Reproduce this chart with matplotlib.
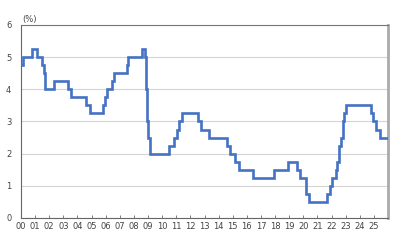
import matplotlib
matplotlib.use("Agg")
import matplotlib.pyplot as plt
import pandas as pd

change_dates = ["2000-01-01", "2000-02-10", "2000-10-05", "2001-02-08", "2001-07-05",
                "2001-08-09", "2001-09-19", "2002-05-07", "2003-05-13", "2003-07-10",
                "2004-08-12", "2004-11-11", "2005-10-11", "2005-12-08", "2006-02-09",
                "2006-06-08", "2006-08-10", "2007-07-12", "2007-08-09", "2008-08-07",
                "2008-10-09", "2008-10-27", "2008-11-07", "2008-12-11", "2009-01-09",
                "2009-02-12", "2010-07-09", "2010-11-16", "2011-01-13", "2011-03-10",
                "2011-06-10", "2012-07-12", "2012-10-11", "2013-05-09", "2014-08-14",
                "2014-10-15", "2015-03-12", "2015-06-11", "2016-06-09", "2017-11-30",
                "2018-11-30", "2019-07-18", "2019-10-16", "2020-03-16", "2020-05-28",
                "2021-08-26", "2021-11-25", "2022-01-14", "2022-04-14", "2022-05-26",
                "2022-07-13", "2022-08-25", "2022-10-12", "2022-11-24", "2023-01-13",
                "2024-10-11", "2024-11-28", "2025-02-25", "2025-05-29"]
rates = [4.75, 5.00, 5.25, 5.00, 4.75,
         4.50, 4.00, 4.25, 4.00, 3.75,
         3.50, 3.25, 3.50, 3.75, 4.00,
         4.25, 4.50, 4.75, 5.00, 5.25,
         5.00, 4.25, 4.00, 3.00, 2.50,
         2.00, 2.25, 2.50, 2.75, 3.00,
         3.25, 3.00, 2.75, 2.50, 2.25,
         2.00, 1.75, 1.50, 1.25, 1.50,
         1.75, 1.50, 1.25, 0.75, 0.50,
         0.75, 1.00, 1.25, 1.50, 1.75,
         2.25, 2.50, 3.00, 3.25, 3.50,
         3.25, 3.00, 2.75, 2.50]
end_year = 2026.0
x_tick_years = list(range(2000, 2026))
x_tick_labels = [f"{y % 100:02d}" for y in x_tick_years]
y_ticks = [0, 1, 2, 3, 4, 5, 6]

d = pd.to_datetime(change_dates)
xs = list(d.year + (d.dayofyear - 1) / 365.0)
xs.append(end_year)
ys = rates + [rates[-1]]

fig = plt.figure(figsize=(4.0, 2.4), dpi=100)
ax = fig.add_axes([0.0525, 0.0917, 0.9175, 0.8043])
ax.step(xs, ys, where="post", color="#4472C4", lw=1.9, solid_joinstyle="miter", zorder=3)

ax.set_xlim(2000, end_year)
ax.set_ylim(0, 6)
ax.set_yticks(y_ticks)
ax.set_yticklabels([str(v) for v in y_ticks], fontsize=6, color="#444444")
ax.set_xticks(x_tick_years)
ax.set_xticklabels(x_tick_labels, fontsize=6, color="#444444")
ax.tick_params(axis="y", length=0, pad=7)
ax.tick_params(axis="x", direction="in", length=2, width=0.6, color="#666666", pad=3)
ax.grid(axis="y", color="#d4d4d4", lw=0.8, zorder=0)
ax.set_axisbelow(True)

for side in ["left", "bottom"]:
    ax.spines[side].set_color("#666666")
    ax.spines[side].set_linewidth(0.8)
ax.spines["top"].set_color("#777777")
ax.spines["top"].set_linewidth(0.8)
ax.spines["right"].set_color("#aaaaaa")
ax.spines["right"].set_linewidth(2.0)

fig.text(0.055, 0.92, "(%)", fontsize=6, color="#444444", ha="left", va="center")

fig.savefig("out.png", dpi=100, facecolor="white")
